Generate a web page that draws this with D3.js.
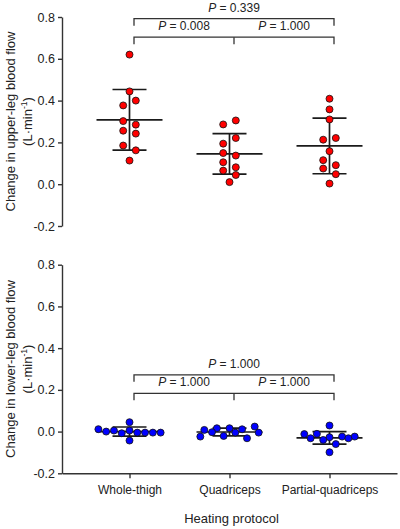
<!DOCTYPE html>
<html>
<head>
<meta charset="utf-8">
<script src="https://cdn.jsdelivr.net/npm/d3@7"></script>
<style>
  html, body { margin: 0; padding: 0; background: #fff; }
  svg { display: block; font-family: "Liberation Sans", Arial, Helvetica, sans-serif; }
</style>
</head>
<body>
<svg id="chart" width="400" height="529"></svg>
<script>
// ---------------- data ----------------
const categories = ["Whole-thigh", "Quadriceps", "Partial-quadriceps"];
const yTickValues = [-0.2, 0.0, 0.2, 0.4, 0.6, 0.8];
const yTickLabels = ["-0.2", "0.0", "0.2", "0.4", "0.6", "0.8"];

// upper-leg blood flow change (L·min-1)
const upperWholeThigh = [0.620, 0.444, 0.377, 0.400, 0.302, 0.285, 0.256, 0.242, 0.185, 0.162, 0.113];
const upperQuadriceps = [0.286, 0.305, 0.194, 0.221, 0.149, 0.137, 0.105, 0.081, 0.065, 0.044, 0.010];
const upperPartial    = [0.409, 0.358, 0.310, 0.213, 0.221, 0.158, 0.115, 0.091, 0.075, 0.048, 0.003];
const upperMean = [0.308, 0.145, 0.183];
const upperSD   = [0.145, 0.097, 0.133];
const upperP    = ["0.339", "0.008", "1.000"]; // outer (1 vs 3), 1 vs 2, 2 vs 3

// lower-leg blood flow change (L·min-1)
const lowerWholeThigh = [0.045, 0.0115, 0.000, 0.005, -0.008, 0.005, -0.005, -0.005, -0.005, -0.005, -0.043];
const lowerQuadriceps = [0.008, 0.016, 0.016, 0.011, 0.024, -0.024, -0.003, -0.021, -0.005, -0.032, -0.005];
const lowerPartial    = [0.029, -0.012, -0.011, -0.027, -0.024, -0.024, -0.032, -0.040, -0.060, -0.032, -0.099];
const lowerMean = [0.000, -0.002, -0.030];
const lowerSD   = [0.022, 0.019, 0.030];
const lowerP    = ["1.000", "1.000", "1.000"];

// ---------------- layout ----------------
const svg = d3.select("#chart");
const FONT = "\"Liberation Sans\", Arial, Helvetica, sans-serif";
const INK = "#222";
const AXIS = "#333";

const x = d3.scalePoint().domain(categories).range([62, 397]).padding(0.675);

const panels = [
  { title: "Change in upper-leg blood flow", range: [226, 17], groups: [upperWholeThigh, upperQuadriceps, upperPartial],
    mean: upperMean, sd: upperSD, p: upperP, fill: "#ff0000", bracket: 0.792, xAxis: false },
  { title: "Change in lower-leg blood flow", range: [473.3, 264.7], groups: [lowerWholeThigh, lowerQuadriceps, lowerPartial],
    mean: lowerMean, sd: lowerSD, p: lowerP, fill: "#0000ff", bracket: 0.272, xAxis: true }
];

const BIN = 0.031;        // grouping window for dot spreading
const MAXSTEP = 12.6, SPREAD = 70;

function swarmOffsets(values) {
  const idx = d3.range(values.length).sort((a, b) => values[a] - values[b]);
  const groups = [];
  let cur = null, start = 0;
  idx.forEach(i => {
    if (cur && values[i] - start < BIN) cur.push(i);
    else { cur = [i]; start = values[i]; groups.push(cur); }
  });
  const off = new Array(values.length).fill(0);
  groups.forEach(g => {
    g.sort((a, b) => a - b);
    const n = g.length;
    const step = Math.min(MAXSTEP, SPREAD / n);
    g.forEach((i, k) => { off[i] = (k - (n - 1) / 2) * step; });
  });
  return off;
}

function pText(sel, xx, yy, val) {
  const t = sel.append("text").attr("x", xx).attr("y", yy).attr("text-anchor", "middle")
    .attr("font-size", 12).attr("fill", INK).attr("font-family", FONT);
  t.append("tspan").attr("font-style", "italic").text("P");
  t.append("tspan").text(" = " + val);
}

panels.forEach(pn => {
  const y = d3.scaleLinear().domain([-0.2, 0.8]).range(pn.range);
  const g = svg.append("g");

  // y axis
  const ya = g.append("g").attr("transform", "translate(62,0)")
    .call(d3.axisLeft(y).tickValues(yTickValues).tickFormat((d, i) => yTickLabels[i]).tickSize(4).tickSizeOuter(0).tickPadding(3));
  ya.select(".domain").attr("stroke", AXIS).attr("stroke-width", 1.4);
  ya.selectAll(".tick line").attr("stroke", AXIS).attr("stroke-width", 1.4);
  ya.selectAll(".tick text").attr("font-size", 12.5).attr("fill", INK).attr("font-family", FONT);

  // x axis (bottom panel only)
  if (pn.xAxis) {
    const xa = g.append("g").attr("transform", `translate(0,${pn.range[0]})`)
      .call(d3.axisBottom(x).tickSize(5).tickSizeOuter(0).tickPadding(6));
    xa.select(".domain").attr("stroke", AXIS).attr("stroke-width", 1.4);
    xa.selectAll(".tick line").attr("stroke", AXIS).attr("stroke-width", 1.4);
    xa.selectAll(".tick text").attr("font-size", 12).attr("fill", INK).attr("font-family", FONT).attr("dy", "0.85em");
  }

  // y title
  const cy = (pn.range[0] + pn.range[1]) / 2;
  const tt = g.append("text").attr("transform", `translate(15,${cy}) rotate(-90)`)
    .attr("text-anchor", "middle").attr("font-size", 13).attr("fill", INK).attr("font-family", FONT);
  tt.append("tspan").attr("x", 0).attr("y", 0).text(pn.title);
  const t2 = g.append("text").attr("transform", `translate(32,${cy}) rotate(-90)`)
    .attr("text-anchor", "middle").attr("font-size", 13).attr("fill", INK).attr("font-family", FONT);
  t2.append("tspan").text("(L·min");
  t2.append("tspan").attr("dy", -5).attr("font-size", 8.5).text("-1");
  t2.append("tspan").attr("dy", 5).text(")");

  // mean and SD
  categories.forEach((c, i) => {
    const cx = x(c);
    const m = pn.mean[i], s = pn.sd[i];
    const lg = g.append("g").attr("stroke", "#1a1a1a").attr("stroke-width", 1.7);
    lg.append("line").attr("x1", cx).attr("x2", cx).attr("y1", y(m + s)).attr("y2", y(m - s));
    lg.append("line").attr("x1", cx - 33).attr("x2", cx + 33).attr("y1", y(m)).attr("y2", y(m));
    lg.append("line").attr("x1", cx - 17).attr("x2", cx + 17).attr("y1", y(m + s)).attr("y2", y(m + s));
    lg.append("line").attr("x1", cx - 17).attr("x2", cx + 17).attr("y1", y(m - s)).attr("y2", y(m - s));
  });

  // dots
  categories.forEach((c, i) => {
    const vals = pn.groups[i];
    const off = swarmOffsets(vals);
    g.append("g").selectAll("circle").data(vals).join("circle")
      .attr("cx", (d, k) => x(c) + off[k])
      .attr("cy", d => y(d))
      .attr("r", 3.5)
      .attr("fill", pn.fill)
      .attr("stroke", "#111")
      .attr("stroke-width", 0.8);
  });

  // significance brackets
  const bx = categories.map(c => x(c) + 4.5);
  const yb1 = y(pn.bracket), yb2 = yb1 + 18.5, drop = 7;
  const bg = g.append("g").attr("stroke", AXIS).attr("stroke-width", 1.3).attr("fill", "none");
  bg.append("path").attr("d", `M${bx[0]},${yb1 + drop}V${yb1}H${bx[2]}V${yb1 + drop}`);
  bg.append("path").attr("d", `M${bx[0]},${yb2 + drop}V${yb2}H${bx[2]}V${yb2 + drop}`);
  bg.append("path").attr("d", `M${bx[1]},${yb2}V${yb2 + drop}`);
  pText(g, (bx[0] + bx[2]) / 2, yb1 - 7, pn.p[0]);
  pText(g, (bx[0] + bx[1]) / 2, yb2 - 7, pn.p[1]);
  pText(g, (bx[1] + bx[2]) / 2, yb2 - 7, pn.p[2]);
});

// x title
svg.append("text").attr("x", (62 + 397) / 2 + 2).attr("y", 523).attr("text-anchor", "middle")
  .attr("font-size", 13).attr("fill", INK).attr("font-family", FONT).text("Heating protocol");
</script>
</body>
</html>
